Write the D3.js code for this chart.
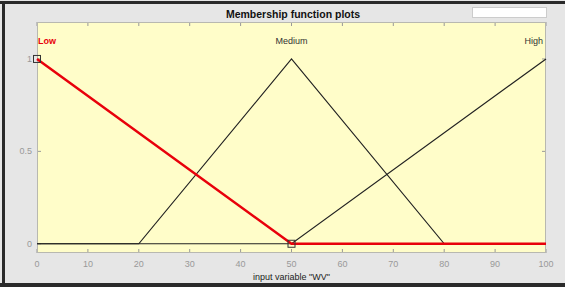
<!DOCTYPE html>
<html><head><meta charset="utf-8">
<script src="https://cdn.jsdelivr.net/npm/d3@7"></script>
<style>html,body{margin:0;padding:0;background:#e6e6e6;}svg{display:block;}</style>
</head><body>
<script>
const title = "Membership function plots";
const xLabel = 'input variable "WV"';
const xTicks = [0,10,20,30,40,50,60,70,80,90,100];
const yTicks = [0,0.5,1];
const yTickLabels = ["0","0.5","1"];
const mfNames = ["Low","Medium","High"];
const mfLabelX = [0,50,100];
const lowX = [0,50,100], lowY = [1,0,0];
const medX = [0,20,50,80,100], medY = [0,0,1,0,0];
const highX = [0,50,100], highY = [0,0,1];
const handleX = [0,50], handleY = [1,0];

const W=565,H=287;
const svg=d3.select("body").append("svg").attr("width",W).attr("height",H);
svg.append("rect").attr("width",W).attr("height",H).attr("fill","#e6e6e6");
// dark outer border
svg.append("rect").attr("x",0).attr("y",1).attr("width",W).attr("height",3).attr("fill","#2a2a2a");
svg.append("rect").attr("x",2).attr("y",1).attr("width",3).attr("height",H).attr("fill","#2a2a2a");
svg.append("rect").attr("x",0).attr("y",283).attr("width",W).attr("height",4).attr("fill","#2a2a2a");

const L=37,R=546,T=22,B=253;
const x=d3.scaleLinear().domain([0,100]).range([L,R]);
const y=d3.scaleLinear().domain([-0.05,1.2]).range([B,T]);

svg.append("text").attr("x",293).attr("y",18).attr("text-anchor","middle")
  .attr("font-family","Liberation Sans, Arial, sans-serif").attr("font-weight","bold")
  .attr("font-size",10.5).attr("fill","#111").text(title);
svg.append("rect").attr("x",472.5).attr("y",7.5).attr("width",74).attr("height",10)
  .attr("fill","#fff").attr("stroke","#ccc");

svg.append("rect").attr("x",L).attr("y",T).attr("width",R-L).attr("height",B-T)
  .attr("fill","#fffdc9");

// ticks
const g=svg.append("g");
xTicks.forEach(t=>{
  g.append("line").attr("x1",x(t)).attr("x2",x(t)).attr("y1",B).attr("y2",B-4).attr("stroke","#999");
  g.append("line").attr("x1",x(t)).attr("x2",x(t)).attr("y1",T).attr("y2",T+4).attr("stroke","#999");
  g.append("text").attr("x",x(t)).attr("y",B+14).attr("text-anchor","middle")
   .attr("font-family","Liberation Sans, Arial, sans-serif").attr("font-size",9).attr("fill","#999").text(t);
});
yTicks.forEach((t,i)=>{
  g.append("line").attr("x1",L).attr("x2",L+4).attr("y1",y(t)).attr("y2",y(t)).attr("stroke","#999");
  g.append("line").attr("x1",R).attr("x2",R-4).attr("y1",y(t)).attr("y2",y(t)).attr("stroke","#999");
  g.append("text").attr("x",L-5).attr("y",y(t)+3).attr("text-anchor","end")
   .attr("font-family","Liberation Sans, Arial, sans-serif").attr("font-size",9).attr("fill","#999").text(yTickLabels[i]);
});
svg.append("rect").attr("x",L+0.5).attr("y",T+0.5).attr("width",R-L-1).attr("height",B-T-1)
  .attr("fill","none").attr("stroke","#b8b8b0");

svg.append("text").attr("x",x(50)).attr("y",280).attr("text-anchor","middle")
  .attr("font-family","Liberation Sans, Arial, sans-serif").attr("font-size",9).attr("fill","#222").text(xLabel);

const line=d3.line().x(d=>x(d[0])).y(d=>y(d[1]));
const series=[[medX,medY],[highX,highY]];
series.forEach(([xs,ys])=>{
  svg.append("path").attr("d",line(xs.map((v,i)=>[v,ys[i]]))).attr("fill","none")
   .attr("stroke","#222").attr("stroke-width",1.2);
});
svg.append("path").attr("d",line(lowX.map((v,i)=>[v,lowY[i]]))).attr("fill","none")
  .attr("stroke","#e8000b").attr("stroke-width",2.5);

handleX.forEach((hx,i)=>{
  svg.append("rect").attr("x",x(hx)-3.5).attr("y",y(handleY[i])-3.5).attr("width",7).attr("height",7)
   .attr("fill","none").attr("stroke","#333").attr("stroke-width",1);
});

mfNames.forEach((n,i)=>{
  const anchor=i===0?"start":(i===2?"end":"middle");
  const xx=i===0?x(mfLabelX[i])+1:(i===2?x(mfLabelX[i])-3:x(mfLabelX[i]));
  svg.append("text").attr("x",xx).attr("y",44).attr("text-anchor",anchor)
   .attr("font-family","Liberation Sans, Arial, sans-serif").attr("font-size",9)
   .attr("font-weight",i===0?"bold":"normal")
   .attr("fill",i===0?"#e8000b":"#333").text(n);
});
</script>
</body></html>
